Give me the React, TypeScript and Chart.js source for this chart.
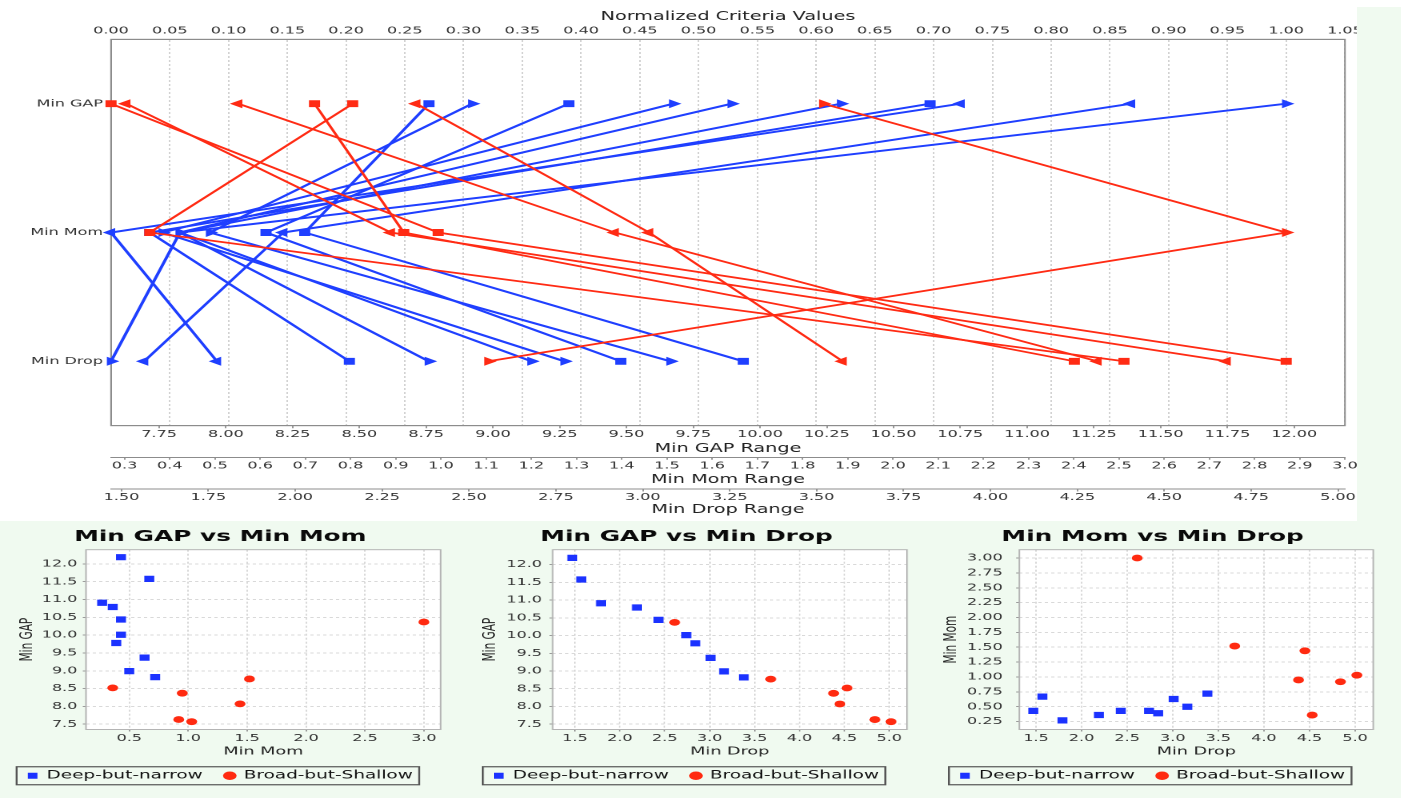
import React, { useEffect, useRef } from 'react';
import { Chart, registerables } from 'chart.js';

Chart.register(...registerables);

// horizontal stretch of the reference rendering
const S = 1.6;
const FONT = "'DejaVu Sans', 'Liberation Sans', sans-serif";
const BLUE = '#1f3fff';
const RED = '#ff2b14';
const GREEN = '#f0faf0';

const ROW_LABELS = ['Min GAP', 'Min Mom', 'Min Drop'];
const SERIES_NAMES = ['Deep-but-narrow', 'Broad-but-Shallow'];

// Deep-but-narrow items
const DEEP_GAP = [12.19, 11.58, 10.91, 10.79, 10.44, 10.01, 9.78, 9.37, 8.99, 8.82];
const DEEP_MOM = [0.43, 0.67, 0.27, 0.36, 0.43, 0.43, 0.39, 0.63, 0.5, 0.72];
const DEEP_DROP = [1.47, 1.57, 1.79, 2.19, 2.43, 2.74, 2.84, 3.01, 3.16, 3.38];
const DEEP_MARK = ['right', 'left', 'left', 'rect', 'right', 'right', 'right', 'rect', 'right', 'rect'];

// Broad-but-Shallow items
const BROAD_GAP = [10.37, 8.77, 8.52, 8.37, 8.07, 7.63, 7.57];
const BROAD_MOM = [3.0, 1.52, 0.36, 0.95, 1.44, 0.92, 1.03];
const BROAD_DROP = [2.61, 3.68, 4.53, 4.38, 4.45, 4.84, 5.02];
const BROAD_MARK = ['right', 'left', 'rect', 'rect', 'left', 'left', 'rect'];

// tick labels
const NORM_TICKS = [0, 0.05, 0.1, 0.15, 0.2, 0.25, 0.3, 0.35, 0.4, 0.45, 0.5, 0.55, 0.6, 0.65, 0.7, 0.75, 0.8, 0.85, 0.9, 0.95, 1.0, 1.05];
const GAP_RANGE_TICKS = [7.75, 8, 8.25, 8.5, 8.75, 9, 9.25, 9.5, 9.75, 10, 10.25, 10.5, 10.75, 11, 11.25, 11.5, 11.75, 12];
const MOM_RANGE_TICKS = [0.3, 0.4, 0.5, 0.6, 0.7, 0.8, 0.9, 1.0, 1.1, 1.2, 1.3, 1.4, 1.5, 1.6, 1.7, 1.8, 1.9, 2.0, 2.1, 2.2, 2.3, 2.4, 2.5, 2.6, 2.7, 2.8, 2.9, 3.0];
const DROP_RANGE_TICKS = [1.5, 1.75, 2, 2.25, 2.5, 2.75, 3, 3.25, 3.5, 3.75, 4, 4.25, 4.5, 4.75, 5];
const GAP_AXIS_TICKS = [7.5, 8, 8.5, 9, 9.5, 10, 10.5, 11, 11.5, 12];
const MOM_AXIS_TICKS_X = [0.5, 1, 1.5, 2, 2.5, 3];
const DROP_AXIS_TICKS = [1.5, 2, 2.5, 3, 3.5, 4, 4.5, 5];
const MOM_AXIS_TICKS_Y = [0.25, 0.5, 0.75, 1, 1.25, 1.5, 1.75, 2, 2.25, 2.5, 2.75, 3];

Chart.defaults.font.family = FONT;

const fixedTicks = (vals: number[]) => (s: any) => {
  s.ticks = vals.map((v) => ({ value: v }));
};
const fixHeight = (h: number) => (s: any) => {
  s.height = h;
  s.paddingLeft = 0;
  s.paddingRight = 0;
};
const fixWidth = (w: number) => (s: any) => {
  s.width = w;
  s.paddingTop = 0;
  s.paddingBottom = 0;
};

const boxPlugin = (color: string) => ({
  id: 'plotBox',
  beforeDatasetsDraw(chart: any) {
    const { ctx, chartArea: a } = chart;
    ctx.save();
    ctx.strokeStyle = color;
    ctx.lineWidth = 1;
    ctx.strokeRect(a.left, a.top, a.right - a.left, a.bottom - a.top);
    ctx.restore();
  },
});

const plotBgPlugin = {
  id: 'plotBg',
  beforeDraw(chart: any) {
    const { ctx, chartArea: a } = chart;
    ctx.save();
    ctx.fillStyle = '#ffffff';
    ctx.fillRect(a.left, a.top, a.right - a.left, a.bottom - a.top);
    ctx.restore();
  },
};

const legendBoxPlugin = {
  id: 'legendBox',
  afterDraw(chart: any) {
    const lg = chart.legend;
    if (!lg || !lg.legendHitBoxes || !lg.legendHitBoxes.length) return;
    const hb = lg.legendHitBoxes;
    const l = Math.min(...hb.map((h: any) => h.left)) - 7;
    const r = Math.max(...hb.map((h: any) => h.left + h.width)) + 4;
    const cy = hb[0].top + hb[0].height / 2;
    const { ctx } = chart;
    ctx.save();
    ctx.strokeStyle = '#555';
    ctx.lineWidth = 1.2;
    ctx.strokeRect(l, cy - 9, r - l, 18);
    ctx.restore();
  },
};

function Stretched({ left, top, w, h, canvasRef }: any) {
  return (
    <div
      style={{
        position: 'absolute',
        left,
        top,
        width: w,
        height: h,
        transform: `scaleX(${S})`,
        transformOrigin: '0 0',
      }}
    >
      <canvas ref={canvasRef} width={w} height={h} style={{ display: 'block' }} />
    </div>
  );
}

function TopChart() {
  const ref = useRef<HTMLCanvasElement>(null);
  useEffect(() => {
    const allGap = [...DEEP_GAP, ...BROAD_GAP];
    const allMom = [...DEEP_MOM, ...BROAD_MOM];
    const allDrop = [...DEEP_DROP, ...BROAD_DROP];
    const gMin = Math.min(...allGap), gMax = Math.max(...allGap);
    const mMin = Math.min(...allMom), mMax = Math.max(...allMom);
    const dMin = Math.min(...allDrop), dMax = Math.max(...allDrop);
    const nz = (v: number, lo: number, hi: number) => (v - lo) / (hi - lo);
    const item = (g: number, m: number, d: number, mark: string, color: string, width: number) => ({
      data: [
        { x: nz(g, gMin, gMax), y: 0 },
        { x: nz(m, mMin, mMax), y: 1 },
        { x: nz(d, dMin, dMax), y: 2 },
      ],
      borderColor: color,
      backgroundColor: color,
      borderWidth: width,
      pointStyle: mark === 'rect' ? 'rect' : 'triangle',
      pointRotation: mark === 'right' ? 90 : mark === 'left' ? 270 : 0,
      pointRadius: 4.2,
      pointBorderWidth: 1,
      pointBackgroundColor: color,
      pointBorderColor: color,
      xAxisID: 'x',
      yAxisID: 'y',
      clip: false,
      tension: 0,
      fill: false,
    });
    const datasets: any[] = [
      ...BROAD_GAP.map((g, i) => item(g, BROAD_MOM[i], BROAD_DROP[i], BROAD_MARK[i], RED, 1.8)),
      ...DEEP_GAP.map((g, i) => item(g, DEEP_MOM[i], DEEP_DROP[i], DEEP_MARK[i], BLUE, 2)),
    ];
    const tickFont = { family: FONT, size: 10 };
    const titleFont = { family: FONT, size: 12 };
    const rangeAxis = (lo: number, hi: number, ticks: number[], dec: number, title: string, h: number, pb: number) => ({
      type: 'linear',
      position: 'bottom',
      min: lo,
      max: hi,
      afterBuildTicks: fixedTicks(ticks),
      afterFit: fixHeight(h),
      ticks: {
        callback: (v: any) => Number(v).toFixed(dec),
        font: tickFont,
        color: '#333',
        padding: 0,
        autoSkip: false,
        maxRotation: 0,
        minRotation: 0,
      },
      grid: { display: true, drawOnChartArea: false, tickLength: 2.5, color: '#999', lineWidth: 1 },
      border: { display: true, color: '#8c8c8c', width: 1 },
      title: { display: true, text: title, font: titleFont, color: '#222', padding: { top: 0, bottom: pb } },
    });
    const chart = new Chart(ref.current as HTMLCanvasElement, {
      type: 'line',
      data: { datasets },
      options: {
        responsive: false,
        animation: false,
        devicePixelRatio: 2,
        events: [],
        layout: { padding: { left: 0, right: 7.4, top: 0, bottom: 0 } },
        plugins: { legend: { display: false }, tooltip: { enabled: false }, title: { display: false } },
        scales: {
          x: {
            type: 'linear',
            position: 'top',
            min: 0,
            max: 1.05,
            afterBuildTicks: fixedTicks(NORM_TICKS),
            afterFit: fixHeight(39.3),
            ticks: {
              callback: (v: any) => Number(v).toFixed(2),
              font: tickFont,
              color: '#333',
              padding: 2.3,
              autoSkip: false,
              maxRotation: 0,
              minRotation: 0,
            },
            grid: { color: '#d2d2d2', lineWidth: 1, drawTicks: false },
            border: { display: true, color: '#8c8c8c', dash: [2, 2] },
            title: {
              display: true,
              text: 'Normalized Criteria Values',
              font: titleFont,
              color: '#222',
              padding: { top: 9.5, bottom: 0 },
            },
          },
          y: {
            type: 'linear',
            position: 'left',
            min: -0.5,
            max: 2.5,
            reverse: true,
            afterBuildTicks: fixedTicks(ROW_LABELS.map((_, i) => i)),
            afterFit: fixWidth(69.4),
            ticks: {
              callback: (v: any) => ROW_LABELS[Number(v)],
              font: tickFont,
              color: '#333',
              padding: 5,
            },
            grid: { display: false, drawTicks: false },
            border: { display: true, color: '#8c8c8c' },
          },
          gapR: rangeAxis(gMin, gMax, GAP_RANGE_TICKS, 2, 'Min GAP Range', 31.6, 1.1),
          momR: rangeAxis(mMin, mMax, MOM_RANGE_TICKS, 1, 'Min Mom Range', 31.7, 1.8),
          dropR: rangeAxis(dMin, dMax, DROP_RANGE_TICKS, 2, 'Min Drop Range', 32, 3.8),
        } as any,
      },
      plugins: [boxPlugin('#8c8c8c')],
    } as any);
    return () => chart.destroy();
  }, []);
  return <Stretched left={0} top={0} w={848} h={521} canvasRef={ref} />;
}

function ScatterPanel(p: any) {
  const ref = useRef<HTMLCanvasElement>(null);
  useEffect(() => {
    const chart = new Chart(ref.current as HTMLCanvasElement, {
      type: 'scatter',
      data: {
        datasets: [
          {
            label: SERIES_NAMES[0],
            data: p.deepX.map((x: number, i: number) => ({ x, y: p.deepY[i] })),
            pointStyle: 'rect',
            pointRadius: 4.4,
            borderWidth: 0,
            backgroundColor: '#1b32ff',
            borderColor: '#1b32ff',
          },
          {
            label: SERIES_NAMES[1],
            data: p.broadX.map((x: number, i: number) => ({ x, y: p.broadY[i] })),
            pointStyle: 'circle',
            pointRadius: 3.4,
            borderWidth: 0,
            backgroundColor: '#ff2a10',
            borderColor: '#ff2a10',
          },
        ],
      },
      options: {
        responsive: false,
        animation: false,
        devicePixelRatio: 2,
        events: [],
        layout: { padding: { left: 0, right: p.rightPad, top: 0, bottom: 6.5 } },
        plugins: {
          tooltip: { enabled: false },
          title: {
            display: true,
            text: p.title,
            font: { family: FONT, size: 15.5, weight: 'bold' },
            color: '#0a0a0a',
            padding: { top: 6.7, bottom: 3.4 },
          },
          legend: {
            display: true,
            position: 'bottom',
            labels: {
              usePointStyle: true,
              boxWidth: 6,
              boxHeight: 6,
              padding: 14,
              font: { family: FONT, size: 11.5 },
              color: '#111',
            },
          },
        },
        scales: {
          x: {
            type: 'linear',
            position: 'bottom',
            min: p.xMin,
            max: p.xMax,
            afterBuildTicks: fixedTicks(p.xTicks),
            afterFit: fixHeight(26.5),
            ticks: {
              callback: (v: any) => Number(v).toFixed(p.xDec),
              font: { family: FONT, size: 10 },
              color: '#333',
              padding: 1,
              autoSkip: false,
              maxRotation: 0,
              minRotation: 0,
            },
            grid: { color: '#d9d9d9', lineWidth: 1, tickLength: 2, tickColor: '#9a9a9a' },
            border: { display: false, dash: [2, 2] },
            title: {
              display: true,
              text: p.xLabel,
              font: { family: FONT, size: 11 },
              color: '#222',
              padding: { top: 0, bottom: -2.1 },
            },
          },
          y: {
            type: 'linear',
            position: 'left',
            min: p.yMin,
            max: p.yMax,
            afterBuildTicks: fixedTicks(p.yTicks),
            afterFit: fixWidth(p.yAxisW),
            ticks: {
              callback: (v: any) => Number(v).toFixed(p.yDec),
              font: { family: FONT, size: 10 },
              color: '#333',
              padding: p.yTickPad,
              autoSkip: false,
            },
            grid: { color: '#d9d9d9', lineWidth: 1, tickLength: 2, tickColor: '#9a9a9a' },
            border: { display: false, dash: [2, 2] },
            title: {
              display: true,
              text: p.yLabel,
              font: { family: FONT, size: 10.5 },
              color: '#222',
              padding: { top: p.yTitlePad, bottom: 0 },
            },
          },
        } as any,
      },
      plugins: [plotBgPlugin, boxPlugin('#b4b4b4'), legendBoxPlugin],
    } as any);
    return () => chart.destroy();
  }, []);
  return <Stretched left={p.left} top={521} w={p.w} h={277} canvasRef={ref} />;
}

export default function App() {
  return (
    <div
      style={{
        position: 'absolute',
        left: 0,
        top: 0,
        width: 1401,
        height: 798,
        background: GREEN,
        overflow: 'hidden',
      }}
    >
      <div style={{ position: 'absolute', left: 0, top: 0, width: 1357, height: 521, background: '#fff' }} />
      <div style={{ position: 'absolute', left: 1357, top: 0, width: 44, height: 7, background: '#fff' }} />
      <TopChart />
      <ScatterPanel
        left={0}
        w={291}
        title="Min GAP vs Min Mom"
        xLabel="Min Mom"
        yLabel="Min GAP"
        deepX={DEEP_MOM}
        deepY={DEEP_GAP}
        broadX={BROAD_MOM}
        broadY={BROAD_GAP}
        xMin={0.133}
        xMax={3.142}
        yMin={7.35}
        yMax={12.4}
        xTicks={MOM_AXIS_TICKS_X}
        yTicks={GAP_AXIS_TICKS}
        xDec={1}
        yDec={1}
        yAxisW={53.75}
        rightPad={15.6}
        yTitlePad={10.9}
        yTickPad={3.4}
      />
      <ScatterPanel
        left={466}
        w={291}
        title="Min GAP vs Min Drop"
        xLabel="Min Drop"
        yLabel="Min GAP"
        deepX={DEEP_DROP}
        deepY={DEEP_GAP}
        broadX={BROAD_DROP}
        broadY={BROAD_GAP}
        xMin={1.252}
        xMax={5.197}
        yMin={7.35}
        yMax={12.42}
        xTicks={DROP_AXIS_TICKS}
        yTicks={GAP_AXIS_TICKS}
        xDec={1}
        yDec={1}
        yAxisW={54.2}
        rightPad={15.4}
        yTitlePad={9}
        yTickPad={4.7}
      />
      <ScatterPanel
        left={932}
        w={293}
        title="Min Mom vs Min Drop"
        xLabel="Min Drop"
        yLabel="Min Mom"
        deepX={DEEP_DROP}
        deepY={DEEP_MOM}
        broadX={BROAD_DROP}
        broadY={BROAD_MOM}
        xMin={1.317}
        xMax={5.2}
        yMin={0.117}
        yMax={3.14}
        xTicks={DROP_AXIS_TICKS}
        yTicks={MOM_AXIS_TICKS_Y}
        xDec={1}
        yDec={2}
        yAxisW={54.6}
        rightPad={17.2}
        yTitlePad={5.9}
        yTickPad={8.4}
      />
    </div>
  );
}
